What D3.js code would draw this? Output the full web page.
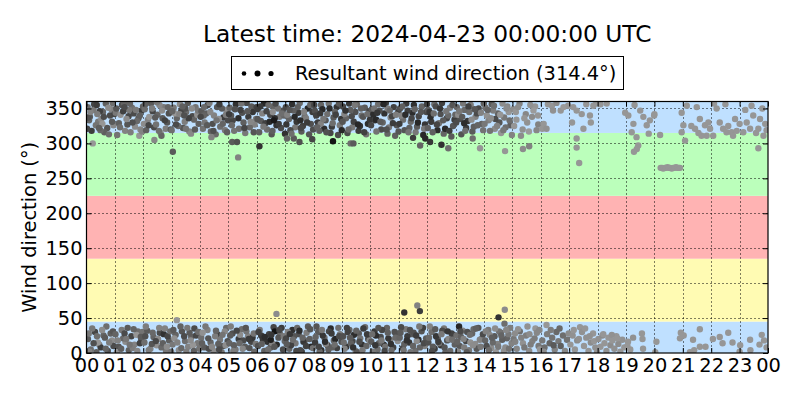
<!DOCTYPE html>
<html>
<head>
<meta charset="utf-8">
<script src="https://cdn.jsdelivr.net/npm/d3@7"></script>
<style>
  html, body { margin: 0; padding: 0; background: #fff; }
  svg { display: block; font-family: "DejaVu Sans", sans-serif; }
</style>
</head>
<body>
<svg id="chart" width="800" height="400"></svg>
<script>
// ---------------- data ----------------
const titleText = "Latest time: 2024-04-23 00:00:00 UTC";
const legendText = "Resultant wind direction (314.4°)";
const yLabelText = "Wind direction (°)";
const hourTickLabels = ["00","01","02","03","04","05","06","07","08","09","10","11","12","13","14","15","16","17","18","19","20","21","22","23","00"];
const dirTicks = [0, 50, 100, 150, 200, 250, 300, 350];
const bandEdges = [0, 45, 135, 225, 315, 360];
const bandColors = ["#bfe0ff", "#fffbb3", "#ffb3b3", "#bbffbb", "#bfe0ff"];

// [hour of day, direction (deg), gray level 0-255]
const observations = [
[0.04,352,105],[0.12,338,90],[0.27,356,70],[0.41,331,120],[0.58,345,100],[0.73,322,85],[0.88,349,130],[0.18,318,60],[0.52,335,140],[0.83,340,75],[0.33,326,115],[0.68,357,95],[0.09,333,100],[0.95,326,135],[0.22,300,150],[0.47,346,65],[0.63,316,95],[0.79,313,110],[0.38,342,125],[0.02,321,70],[0.92,358,110],[0.56,328,150],
[0.07,337,80],[0.25,348,120],[0.36,355,60],[0.49,319,105],[0.61,338,75],[0.77,351,140],[0.9,331,90],[0.14,345,130],[0.44,322,95],[0.98,342,70],
[0.05,20,90],[0.15,5,110],[0.3,30,70],[0.45,12,130],[0.6,25,100],[0.75,3,80],[0.9,18,140],[0.2,35,120],[0.5,8,60],[0.85,28,95],[0.4,15,150],[0.7,38,110],[0.95,10,75],[0.1,2,130],[0.65,22,90],
[0.08,28,120],[0.25,14,80],[0.37,24,110],[0.55,33,140],[0.68,6,100],[0.8,15,125],[0.93,31,85],[0.35,1,95],
[1.03,344,120],[1.14,329,95],[1.25,355,80],[1.36,318,130],[1.48,339,70],[1.6,351,110],[1.71,324,140],[1.83,336,90],[1.94,347,60],[1.08,312,115],[1.2,341,145],[1.32,358,100],[1.44,327,85],[1.55,316,125],[1.66,343,75],[1.78,332,105],[1.9,320,135],[1.99,353,95],[1.5,348,120],[1.86,311,150],
[1.05,350,85],[1.18,323,110],[1.29,346,65],[1.41,335,140],[1.53,357,100],[1.62,330,80],[1.74,348,120],[1.88,340,95],[1.96,317,130],[1.34,352,75],
[1.02,27,100],[1.13,9,85],[1.24,33,120],[1.37,16,140],[1.49,4,95],[1.58,24,70],[1.69,12,130],[1.81,31,110],[1.93,19,80],[1.07,1,145],[1.29,21,105],[1.45,36,90],[1.63,7,125],[1.76,26,150],[1.88,14,65],[1.97,30,115],
[1.1,18,130],[1.22,6,95],[1.34,28,75],[1.52,12,115],[1.66,34,100],[1.79,3,135],[1.91,23,90],[1.4,20,120],
[2.05,349,110],[2.16,334,130],[2.27,357,90],[2.38,323,75],[2.39,305,135],[2.5,341,100],[2.61,315,140],[2.72,352,120],[2.84,330,85],[2.95,345,105],[2.1,319,95],[2.21,338,150],[2.33,346,70],[2.45,327,115],[2.57,355,135],[2.68,336,90],[2.79,321,125],[2.9,343,80],[2.02,328,140],[2.64,311,100],
[2.07,356,95],[2.19,326,70],[2.31,350,125],[2.42,337,90],[2.55,318,110],[2.66,347,140],[2.76,333,65],[2.87,352,100],[2.97,320,85],[2.48,359,120],
[2.04,15,110],[2.14,32,90],[2.25,6,130],[2.36,23,100],[2.47,11,145],[2.58,29,75],[2.72,27,50],[2.8,3,120],[2.91,18,95],[2.09,38,125],[2.3,13,85],[2.52,20,140],[2.64,8,105],[2.76,35,130],[2.86,24,70],[2.98,2,115],
[2.07,24,80],[2.19,4,125],[2.33,29,105],[2.44,17,70],[2.56,36,130],[2.69,14,95],[2.83,9,140],[2.95,31,110],
[3.04,288,90],[3.07,351,120],[3.18,336,100],[3.29,356,140],[3.4,322,85],[3.51,345,110],[3.62,317,130],[3.73,339,75],[3.84,352,115],[3.95,328,95],[3.12,343,150],[3.23,325,105],[3.34,347,70],[3.46,331,125],[3.57,358,90],[3.68,314,135],[3.79,334,100],[3.9,341,145],[3.0,319,110],[3.48,350,80],
[3.02,346,100],[3.15,327,75],[3.27,342,130],[3.38,353,95],[3.5,321,115],[3.6,336,65],[3.71,350,140],[3.82,320,90],[3.93,347,120],[3.44,340,80],
[3.18,47,150],[3.03,12,120],[3.14,26,100],[3.25,4,140],[3.36,31,85],[3.47,17,110],[3.58,9,130],[3.69,23,95],[3.8,35,75],[3.91,14,120],[3.09,21,145],[3.31,38,100],[3.52,2,125],[3.63,29,90],[3.75,11,150],[3.86,25,70],[3.97,6,115],
[3.06,33,90],[3.2,15,130],[3.34,7,105],[3.44,24,75],[3.55,36,120],[3.67,18,140],[3.78,3,95],[3.94,30,110],
[4.05,346,90],[4.16,330,120],[4.27,355,70],[4.38,317,100],[4.49,340,130],[4.6,352,85],[4.71,324,110],[4.82,337,60],[4.93,348,140],[4.1,321,115],[4.21,343,95],[4.33,358,125],[4.44,328,80],[4.55,313,105],[4.66,335,145],[4.77,350,90],[4.88,319,120],[4.98,333,75],[4.4,309,130],[4.13,340,100],
[4.02,338,70],[4.14,352,105],[4.25,326,90],[4.36,345,135],[4.47,318,80],[4.58,333,115],[4.68,356,60],[4.8,328,100],[4.91,341,125],[4.95,316,95],
[4.04,22,110],[4.15,8,90],[4.26,33,130],[4.37,15,100],[4.48,3,140],[4.6,27,60],[4.7,19,120],[4.81,10,85],[4.92,36,105],[4.09,29,145],[4.31,6,75],[4.53,24,125],[4.64,13,95],[4.76,1,115],[4.87,31,135],[4.97,17,80],
[4.07,14,95],[4.19,38,120],[4.29,21,85],[4.42,9,135],[4.56,32,100],[4.67,5,75],[4.79,26,115],[4.9,11,140],
[5.04,351,100],[5.15,333,70],[5.26,356,50],[5.37,321,110],[5.48,344,80],[5.59,315,120],[5.7,338,60],[5.81,353,90],[5.92,327,130],[5.09,340,85],[5.2,318,115],[5.42,348,65],[5.53,330,95],[5.64,358,75],[5.75,323,105],[5.86,345,55],[5.97,335,125],[5.13,302,90],[5.3,302,80],[5.34,280,130],
[5.02,342,60],[5.12,326,105],[5.23,349,80],[5.35,336,45],[5.45,357,115],[5.56,322,70],[5.67,346,90],[5.78,331,135],[5.89,316,85],[5.99,352,65],
[5.03,14,100],[5.14,28,80],[5.25,5,120],[5.36,20,60],[5.47,34,110],[5.58,9,90],[5.69,24,130],[5.8,16,70],[5.91,2,105],[5.08,38,125],[5.19,11,95],[5.41,26,140],[5.52,18,75],[5.63,31,115],[5.74,7,85],[5.85,22,55],[5.96,13,120],
[5.06,25,90],[5.17,3,125],[5.29,32,70],[5.39,14,105],[5.5,6,135],[5.61,36,85],[5.72,20,60],[5.89,28,115],
[6.03,349,60],[6.14,332,90],[6.25,357,40],[6.36,320,110],[6.47,341,70],[6.58,353,100],[6.69,326,50],[6.8,338,120],[6.91,347,80],[6.08,316,95],[6.19,343,130],[6.3,329,65],[6.41,355,105],[6.52,313,85],[6.63,336,45],[6.74,350,115],[6.85,322,75],[6.96,340,100],[6.09,296,50],[6.56,345,140],
[6.02,335,85],[6.12,353,55],[6.23,324,120],[6.34,346,70],[6.45,331,40],[6.55,318,95],[6.66,357,75],[6.77,328,60],[6.88,343,110],[6.99,314,50],
[6.04,10,80],[6.15,25,60],[6.26,3,100],[6.37,16,50],[6.48,8,90],[6.59,37,70],[6.7,12,40],[6.81,28,110],[6.92,5,75],[6.1,33,120],[6.21,20,55],[6.32,1,95],[6.43,27,65],[6.54,14,130],[6.76,22,85],[6.87,36,60],[6.98,17,100],[6.49,19,30],[6.63,31,20],[6.69,56,140],
[6.06,30,65],[6.17,13,95],[6.28,23,45],[6.4,5,110],[6.51,26,55],[6.62,9,85],[6.79,33,70],[6.95,24,120],
[7.02,352,70],[7.13,335,100],[7.24,356,50],[7.35,323,120],[7.46,344,60],[7.57,317,90],[7.68,339,110],[7.79,350,40],[7.9,328,80],[7.07,341,130],[7.18,319,75],[7.29,347,95],[7.4,331,55],[7.51,358,105],[7.62,325,65],[7.73,336,125],[7.84,313,85],[7.96,345,60],[6.6,333,25],[7.53,333,45],[7.06,307,100],[7.3,307,90],[7.5,302,80],[7.95,306,70],
[7.04,327,55],[7.15,348,85],[7.22,314,110],[7.33,338,40],[7.44,352,95],[7.55,322,70],[7.66,345,130],[7.77,330,60],[7.88,355,100],[7.98,320,80],
[7.03,21,70],[7.14,6,100],[7.25,33,50],[7.36,14,120],[7.47,27,80],[7.58,2,60],[7.69,18,110],[7.8,38,90],[7.91,9,40],[7.09,30,130],[7.2,11,65],[7.31,24,85],[7.42,36,105],[7.53,4,75],[7.64,16,55],[7.75,29,125],[7.86,20,95],[7.97,7,115],
[7.05,13,90],[7.16,27,55],[7.27,19,110],[7.39,3,70],[7.5,32,45],[7.61,22,100],[7.73,10,65],[7.88,34,85],
[8.04,347,80],[8.15,330,60],[8.26,355,100],[8.37,321,45],[8.48,342,110],[8.59,315,70],[8.7,337,90],[8.81,352,50],[8.92,326,120],[8.09,340,65],[8.2,318,95],[8.31,349,40],[8.42,333,85],[8.53,357,115],[8.64,324,60],[8.75,345,100],[8.86,312,75],[8.97,335,55],[8.68,303,20],[8.25,328,130],
[8.02,355,70],[8.13,323,100],[8.23,343,55],[8.34,335,120],[8.45,316,80],[8.56,350,45],[8.67,329,110],[8.78,341,65],[8.89,357,90],[8.99,319,40],
[8.05,15,60],[8.16,30,90],[8.27,4,50],[8.38,22,110],[8.49,11,75],[8.6,35,45],[8.71,18,100],[8.82,7,65],[8.93,27,120],[8.1,38,85],[8.21,2,105],[8.32,25,55],[8.43,13,130],[8.54,31,70],[8.65,8,95],[8.76,20,40],[8.87,36,110],[8.98,16,80],
[8.07,23,100],[8.18,9,70],[8.29,33,120],[8.4,16,45],[8.52,5,95],[8.63,28,60],[8.74,12,110],[8.9,24,75],
[9.03,353,70],[9.14,336,100],[9.25,357,55],[9.36,323,120],[9.47,345,80],[9.58,318,60],[9.69,340,110],[9.8,351,90],[9.91,328,45],[9.08,342,130],[9.19,315,75],[9.3,348,95],[9.41,331,65],[9.52,356,105],[9.63,325,50],[9.74,338,85],[9.85,313,115],[9.96,346,70],[9.3,300,110],[9.4,300,90],
[9.02,331,85],[9.12,347,50],[9.23,320,105],[9.34,339,75],[9.45,355,120],[9.56,327,40],[9.67,350,95],[9.78,316,65],[9.89,342,110],[9.98,334,55],
[9.04,24,80],[9.15,9,55],[9.26,33,100],[9.37,17,70],[9.48,3,120],[9.59,28,90],[9.7,12,50],[9.81,37,110],[9.92,20,75],[9.09,6,130],[9.2,30,65],[9.31,14,95],[9.42,26,45],[9.53,1,85],[9.64,21,115],[9.75,35,60],[9.86,10,100],[9.97,18,135],
[9.06,15,110],[9.17,36,65],[9.28,22,90],[9.39,8,50],[9.5,32,100],[9.61,16,75],[9.72,4,120],[9.88,27,60],
[10.05,349,90],[10.16,333,60],[10.27,356,110],[10.38,320,75],[10.49,343,50],[10.6,314,100],[10.71,337,130],[10.82,352,65],[10.93,326,85],[10.1,341,45],[10.21,317,115],[10.32,347,80],[10.43,330,100],[10.54,358,60],[10.65,323,120],[10.76,339,70],[10.87,311,95],[10.98,345,55],[10.2,334,40],[10.6,350,125],
[10.02,326,70],[10.13,350,115],[10.24,344,55],[10.35,331,90],[10.46,356,40],[10.57,320,80],[10.68,347,105],[10.79,329,60],[10.9,341,125],[10.99,317,85],
[10.03,16,90],[10.14,31,60],[10.25,5,110],[10.36,23,75],[10.47,12,50],[10.58,36,100],[10.69,19,130],[10.8,8,65],[10.91,28,85],[10.08,2,120],[10.19,25,45],[10.3,14,95],[10.41,33,70],[10.52,9,115],[10.63,21,55],[10.74,4,105],[10.85,30,80],[10.96,17,140],
[10.06,27,110],[10.17,11,55],[10.28,36,85],[10.39,18,120],[10.5,3,70],[10.61,29,95],[10.72,13,50],[10.88,22,105],
[11.04,350,80],[11.15,334,110],[11.26,357,60],[11.37,322,95],[11.48,344,45],[11.59,316,120],[11.7,339,70],[11.81,353,100],[11.92,327,55],[11.09,340,130],[11.2,319,85],[11.31,347,65],[11.42,331,105],[11.53,355,50],[11.64,324,90],[11.75,297,100],[11.86,312,40],[11.97,345,75],[11.5,308,60],[11.93,307,40],
[11.02,328,60],[11.12,353,95],[11.23,341,45],[11.34,316,115],[11.45,336,70],[11.56,349,100],[11.67,330,40],[11.78,345,85],[11.89,321,120],[11.99,356,65],
[11.03,22,100],[11.14,7,70],[11.25,34,120],[11.36,15,55],[11.47,27,90],[11.58,3,110],[11.69,19,45],[11.8,31,85],[11.91,10,130],[11.08,37,75],[11.19,13,95],[11.3,24,60],[11.41,1,115],[11.52,29,80],[11.63,17,140],[11.74,8,100],[11.85,36,65],[11.96,21,90],[11.19,58,50],[11.65,68,130],[11.74,60,60],
[11.06,29,90],[11.17,4,115],[11.28,18,50],[11.39,33,80],[11.5,10,100],[11.61,25,60],[11.72,38,120],[11.88,14,75],
[12.03,348,90],[12.14,331,60],[12.25,356,110],[12.36,319,45],[12.47,342,80],[12.58,314,100],[12.69,336,70],[12.8,351,125],[12.91,325,85],[12.08,345,55],[12.19,316,95],[12.3,353,75],[12.41,329,115],[12.52,358,65],[12.63,321,40],[12.74,340,105],[12.85,310,90],[12.96,334,60],[12.5,298,50],[12.74,293,110],[12.1,302,55],
[12.02,322,95],[12.12,338,45],[12.23,343,110],[12.34,327,70],[12.45,350,55],[12.56,333,90],[12.67,346,120],[12.78,318,60],[12.89,355,85],[12.99,341,100],
[12.04,15,80],[12.15,30,110],[12.26,6,60],[12.37,21,95],[12.48,11,50],[12.59,35,120],[12.7,18,85],[12.81,3,105],[12.92,26,70],[12.09,38,130],[12.2,9,90],[12.31,24,55],[12.42,14,115],[12.53,32,75],[12.64,1,100],[12.75,20,135],[12.86,28,65],[12.97,12,95],
[12.06,22,105],[12.17,3,75],[12.28,34,90],[12.39,16,60],[12.5,27,120],[12.61,8,85],[12.72,31,55],[12.88,19,110],
[13.04,352,100],[13.15,335,80],[13.26,357,120],[13.37,322,60],[13.48,345,110],[13.59,317,90],[13.7,338,130],[13.81,350,70],[13.92,328,100],[13.09,341,140],[13.2,313,85],[13.31,348,105],[13.42,332,55],[13.53,355,125],[13.64,324,95],[13.75,343,75],[13.86,293,150],[13.97,319,115],[13.3,329,45],[13.6,307,110],
[13.02,330,75],[13.13,346,120],[13.23,338,90],[13.34,318,110],[13.45,353,65],[13.56,334,140],[13.67,349,85],[13.78,326,100],[13.89,344,130],[13.99,357,95],
[13.03,25,110],[13.14,10,90],[13.25,32,130],[13.36,17,70],[13.47,4,120],[13.58,28,100],[13.69,13,140],[13.8,36,85],[13.91,20,115],[13.08,2,135],[13.19,23,95],[13.3,8,125],[13.41,30,80],[13.52,15,145],[13.63,34,105],[13.74,6,90],[13.85,19,130],[13.96,27,75],[13.12,38,40],
[13.06,16,100],[13.17,31,75],[13.28,20,130],[13.39,1,90],[13.5,26,110],[13.61,11,140],[13.72,35,95],[13.88,9,120],
[14.05,351,110],[14.16,333,130],[14.27,356,90],[14.38,321,140],[14.49,343,100],[14.6,315,150],[14.71,337,120],[14.82,353,135],[14.93,326,95],[14.1,340,145],[14.21,318,115],[14.32,347,125],[14.54,330,85],[14.65,357,140],[14.76,323,110],[14.87,345,150],[14.98,312,130],[14.74,289,150],[14.4,335,75],
[14.02,328,120],[14.13,348,100],[14.24,336,140],[14.35,354,110],[14.46,325,130],[14.57,341,150],[14.68,319,120],[14.79,350,140],[14.9,333,110],
[14.04,18,100],[14.15,33,120],[14.26,7,140],[14.37,24,90],[14.48,13,130],[14.59,29,110],[14.7,3,145],[14.81,21,100],[14.92,36,125],[14.09,10,80],[14.2,26,135],[14.31,15,105],[14.42,1,150],[14.53,31,115],[14.64,19,95],[14.75,8,140],[14.86,27,120],[14.97,14,130],[14.51,51,50],[14.73,62,140],[14.72,42,110],
[14.06,31,130],[14.17,4,110],[14.28,22,95],[14.39,35,140],[14.5,9,120],[14.61,25,100],[14.78,33,135],[14.88,6,115],
[15.03,349,140],[15.14,334,150],[15.25,357,130],[15.36,320,145],[15.47,342,135],[15.58,317,155],[15.69,338,140],[15.8,353,150],[15.91,327,130],[15.12,345,150],[15.3,311,140],[15.52,330,145],[15.74,347,155],[15.85,319,135],[15.37,292,140],[15.59,296,130],
[15.06,325,150],[15.2,352,140],[15.42,336,150],[15.63,355,145],[15.9,340,150],
[15.04,20,120],[15.15,6,135],[15.26,31,110],[15.37,14,145],[15.48,25,125],[15.59,3,140],[15.7,17,130],[15.81,35,150],[15.92,10,120],[15.09,28,140],[15.31,22,130],[15.53,38,145],[15.64,12,125],[15.86,29,135],[15.97,5,150],
[15.1,16,130],[15.2,34,145],[15.42,8,120],[15.6,27,140],[15.78,21,125],[15.95,33,135],
[16.1,328,150],[16.05,321,150],[16.2,321,145],[16.39,354,150],[16.43,347,145],[16.7,347,150],[16.96,354,150],[16.55,358,140],[16.8,352,155],[16.25,356,150],
[16.05,18,120],[16.13,8,110],[16.2,40,150],[16.22,27,125],[16.31,14,100],[16.4,22,115],[16.49,5,130],[16.55,30,105],[16.62,17,120],[16.7,10,95],[16.78,25,110],[16.85,3,135],[16.92,19,115],[16.98,28,140],[16.35,33,125],[16.66,35,105],[16.1,2,140],[16.45,11,90],
[17.14,352,150],[17.26,347,150],[17.44,342,150],[17.73,340,150],[17.76,330,150],[17.5,321,150],[17.1,330,150],[17.85,354,150],[17.26,307,150],[17.26,294,150],[17.35,272,150],[17.6,356,150],[17.95,357,150],
[17.04,12,150],[17.12,25,145],[17.2,5,150],[17.28,18,140],[17.38,37,150],[17.45,30,145],[17.52,10,150],[17.6,22,145],[17.68,3,150],[17.76,15,140],[17.84,28,150],[17.92,8,145],[17.16,33,150],[17.34,20,145],[17.56,35,150],[17.72,24,145],[17.88,17,150],[17.98,1,145],
[18.32,357,150],[18.1,356,150],
[18.03,20,145],[18.1,9,150],[18.17,25,140],[18.24,14,150],[18.31,3,145],[18.38,22,150],[18.45,11,140],[18.52,18,150],[18.59,6,145],[18.66,24,150],[18.73,13,140],[18.8,2,150],[18.87,19,145],[18.94,8,150],[18.2,27,150],[18.5,26,145],[18.7,21,150],
[18.97,344,150],[19.08,340,150],[19.26,328,150],[19.2,316,150],[19.37,309,150],[19.5,347,150],[19.61,338,150],[19.73,326,150],[19.84,333,150],[19.8,314,150],[19.43,297,150],[19.38,292,150],[19.28,288,150],[19.99,340,150],[19.3,355,150],
[19.07,16,150],[19.15,5,150],[19.56,28,150],[19.58,20,150],[19.6,6,150],[19.25,22,145],[19.05,10,150],
[20.22,265,150],[20.27,265,150],[20.31,264,150],[20.36,265,150],[20.41,265,150],[20.46,266,150],[20.51,265,150],[20.56,265,150],[20.61,264,150],[20.66,265,150],[20.71,265,150],[20.76,266,150],[20.81,265,150],[20.86,265,150],[20.9,265,150],
[20.2,312,150],[20.0,342,150],[20.96,316,150],[20.96,344,150],
[20.07,16,150],[20.03,1,150],[20.93,29,150],[20.9,21,150],
[21.02,326,150],[21.08,304,150],[21.14,354,150],[21.43,321,150],[21.6,335,150],[21.49,352,150],[21.78,326,150],[21.84,311,150],[21.66,311,150],[21.96,321,150],[21.9,330,150],[21.3,325,150],[21.55,315,150],
[21.03,25,150],[21.36,19,150],[21.4,4,150],[21.25,1,150],[21.6,34,150],[21.6,9,150],[21.8,9,150],
[22.42,321,150],[22.54,316,150],[22.72,316,150],[22.84,335,150],[23.0,328,150],[22.77,311,150],[22.19,350,150],[22.07,311,150],[22.3,330,150],[22.6,325,150],[22.9,318,150],[22.1,357,150],[22.5,356,150],
[22.06,20,150],[22.3,23,150],[22.4,14,150],[22.6,29,150],[22.75,15,150],
[23.13,316,150],[23.37,321,150],[23.48,340,150],[23.66,321,150],[23.84,311,150],[23.72,335,150],[23.42,354,150],[23.95,319,150],[23.66,293,150],[23.25,330,150],[23.58,315,150],[23.9,328,150],[23.2,348,150],[23.8,350,150],
[23.02,11,150],[23.0,2,150],[23.37,19,150],[23.38,4,150],[23.78,26,150],[23.86,18,150],[23.7,12,150],[23.95,8,150]
];
const legendMarkerSizes = [2.3, 3.0, 2.6];

// ---------------- layout ----------------
const svg = d3.select("#chart");
const plot = { left: 86.5, right: 768, top: 101.5, bottom: 353 };
const baseFont = 19.4;
const titleFont = 23.3;

const x = d3.scaleLinear().domain([0, 24]).range([plot.left, plot.right]);
const y = d3.scaleLinear().domain([0, 360]).range([plot.bottom, plot.top]);

svg.append("defs").append("clipPath").attr("id", "plotclip")
  .append("rect")
  .attr("x", plot.left).attr("y", plot.top)
  .attr("width", plot.right - plot.left).attr("height", plot.bottom - plot.top);

// bands
const bands = bandColors.map((c, i) => ({ lo: bandEdges[i], hi: bandEdges[i + 1], color: c }));
svg.append("g").selectAll("rect").data(bands).join("rect")
  .attr("x", plot.left)
  .attr("width", plot.right - plot.left)
  .attr("y", d => y(d.hi))
  .attr("height", d => y(d.lo) - y(d.hi))
  .attr("fill", d => d.color);

// grid
const hourTicks = d3.range(0, 25);
const grid = svg.append("g").attr("stroke", "#000").attr("stroke-width", 1)
  .attr("stroke-dasharray", "1,3").attr("fill", "none");
grid.selectAll("line.v").data(hourTicks.slice(1, -1)).join("line")
  .attr("x1", d => Math.round(x(d)) + 0.5).attr("x2", d => Math.round(x(d)) + 0.5)
  .attr("y1", plot.top).attr("y2", plot.bottom);
grid.selectAll("line.h").data(dirTicks.slice(1)).join("line")
  .attr("y1", d => Math.round(y(d)) + 0.5).attr("y2", d => Math.round(y(d)) + 0.5)
  .attr("x1", plot.left).attr("x2", plot.right);

// points
svg.append("g").attr("clip-path", "url(#plotclip)")
  .selectAll("circle").data(observations).join("circle")
  .attr("cx", d => x(d[0]))
  .attr("cy", d => y(d[1]))
  .attr("r", 3.2)
  .attr("fill", d => d3.rgb(d[2], d[2], d[2]).toString());

// axes (ticks inside, on all sides)
const axBottom = d3.axisBottom(x).tickValues(hourTicks).tickFormat((d, i) => hourTickLabels[i])
  .tickSizeInner(-5).tickSizeOuter(0).tickPadding(5);
const axTop = d3.axisTop(x).tickValues(hourTicks).tickFormat("").tickSizeInner(-5).tickSizeOuter(0);
const axLeft = d3.axisLeft(y).tickValues(dirTicks).tickFormat(d3.format("d"))
  .tickSizeInner(-5).tickSizeOuter(0).tickPadding(4);
const axRight = d3.axisRight(y).tickValues(dirTicks).tickFormat("").tickSizeInner(-5).tickSizeOuter(0);

function styleAxis(g) {
  g.select(".domain").remove();
  g.selectAll("line").attr("stroke", "#000").attr("stroke-width", 1);
  g.selectAll("text").attr("fill", "#000").attr("font-size", baseFont)
    .attr("font-family", "DejaVu Sans, sans-serif");
}
svg.append("g").attr("transform", `translate(0,${plot.bottom})`).call(axBottom).call(styleAxis);
svg.append("g").attr("transform", `translate(0,${plot.top})`).call(axTop).call(styleAxis);
svg.append("g").attr("transform", `translate(${plot.left},0)`).call(axLeft).call(styleAxis);
svg.append("g").attr("transform", `translate(${plot.right},0)`).call(axRight).call(styleAxis);

// frame
svg.append("rect")
  .attr("x", plot.left).attr("y", plot.top)
  .attr("width", plot.right - plot.left).attr("height", plot.bottom - plot.top)
  .attr("fill", "none").attr("stroke", "#000").attr("stroke-width", 1.2);

// y label
svg.append("text")
  .attr("transform", `translate(36,${(plot.top + plot.bottom) / 2}) rotate(-90)`)
  .attr("text-anchor", "middle")
  .attr("font-size", baseFont)
  .text(yLabelText);

// title
svg.append("text")
  .attr("x", (plot.left + plot.right) / 2).attr("y", 42)
  .attr("text-anchor", "middle")
  .attr("font-size", titleFont)
  .text(titleText);

// legend
const legend = svg.append("g");
legend.append("rect")
  .attr("x", 231.5).attr("y", 56.5).attr("width", 392).attr("height", 33)
  .attr("fill", "#fff").attr("stroke", "#000").attr("stroke-width", 1);
const legendX = d3.scalePoint().domain(d3.range(legendMarkerSizes.length)).range([244, 271]);
legend.selectAll("circle").data(legendMarkerSizes).join("circle")
  .attr("cx", (d, i) => legendX(i)).attr("cy", 73.5).attr("r", d => d).attr("fill", "#000");
legend.append("text")
  .attr("x", 295).attr("y", 80)
  .attr("font-size", baseFont)
  .text(legendText);
</script>
</body>
</html>
